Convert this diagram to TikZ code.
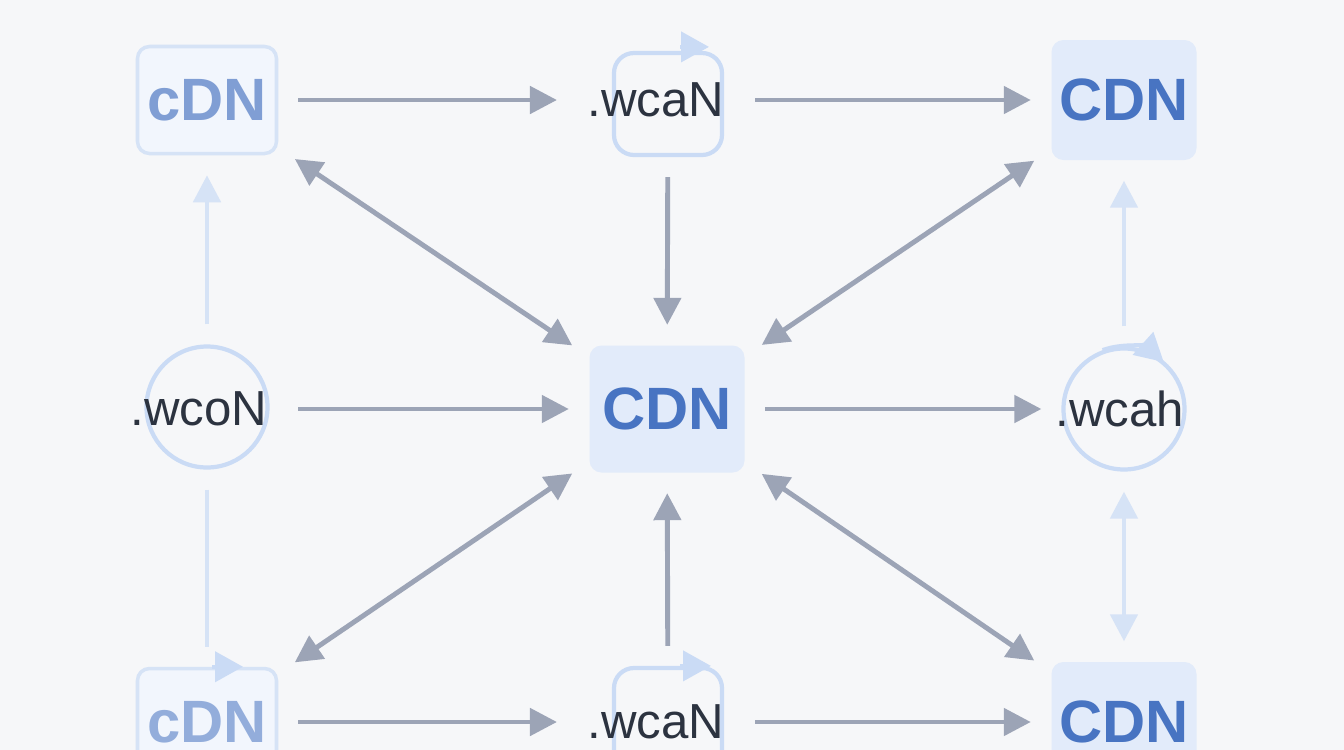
\documentclass[tikz,border=0pt]{standalone}
\usepackage{fontspec}
\setmainfont{Liberation Sans}
\usepackage{tikz}
\usetikzlibrary{arrows.meta,positioning}
\definecolor{bgwhite}{RGB}{246,247,249}
\definecolor{arrgray}{RGB}{156,164,182}
\definecolor{paleblue}{RGB}{214,227,246}
\definecolor{iconblue}{RGB}{202,219,245}
\definecolor{cdnfill}{RGB}{226,235,250}
\definecolor{cdnblue}{RGB}{72,116,194}
\definecolor{cdnlight}{RGB}{128,158,212}
\definecolor{inkdark}{RGB}{44,51,64}

\begin{document}
\begin{tikzpicture}[>={Triangle[length=0.27cm,width=0.27cm]}, big/.style={font=\fontsize{17}{20}\selectfont\bfseries, inner sep=0pt}, word/.style={font=\fontsize{14}{16}\selectfont, text=inkdark, inner sep=0.1cm}, cdnbox/.style={big, text=cdnblue, fill=cdnfill, rounded corners=0.12cm, minimum width=1.45cm, minimum height=1.2cm}, palebox/.style={big, text=cdnlight, draw=paleblue, line width=1pt, fill=cdnfill!45, rounded corners=0.12cm, minimum width=1.39cm, minimum height=1.07cm}, loopsq/.style={draw=iconblue, line width=1.2pt, rounded corners=0.2cm, minimum width=1.08cm, minimum height=1.02cm}, loopc/.style={circle, draw=iconblue, line width=1.2pt, minimum size=1.21cm}, arr/.style={->, line width=1.4pt, draw=arrgray, shorten <=0.2cm, shorten >=0.2cm}, darr/.style={arr, <->}, parr/.style={arr, draw=paleblue}, pdarr/.style={darr, draw=paleblue}, pline/.style={arr, -, draw=paleblue}, iconarr/.style={draw=iconblue, line width=1.2pt, -{Triangle[length=0.28cm,width=0.3cm]}}]
\useasboundingbox (0,0) rectangle (13.44,-7.5);
\fill[bgwhite] (0,0) rectangle (13.44,-7.5);
\node[palebox] (tl) at (2.07,-1.0) {cDN};
\node[loopsq] (tmq) at (6.68,-1.04) {};
\node[word] (tm) at (6.56,-1.0) {.wcaN};
\node[cdnbox] (tr) at (11.24,-1.0) {CDN};
\node[loopc] (mlc) at (2.07,-4.07) {};
\node[word] (ml) at (1.99,-4.09) {.wcoN};
\node[cdnbox, minimum width=1.55cm, minimum height=1.27cm] (c) at (6.67,-4.09) {CDN};
\node[loopc] (mrc) at (11.24,-4.09) {};
\node[word] (mr) at (11.20,-4.09) {.wcah};
\node[palebox, text=cdnlight!85] (bl) at (2.07,-7.22) {cDN};
\node[loopsq] (bmq) at (6.68,-7.19) {};
\node[word] (bm) at (6.56,-7.22) {.wcaN};
\node[cdnbox] (br) at (11.24,-7.22) {CDN};
\draw[iconarr] ([xshift=0.12cm, yshift=0.04cm]tmq.north) -- ([xshift=0.41cm, yshift=0.04cm]tmq.north);
\draw[iconarr] (mrc.110) arc[start angle=110, end angle=48, radius=0.605cm];
\draw[iconarr] ([xshift=0.05cm]bl.north) -- ([xshift=0.36cm]bl.north);
\draw[iconarr] ([xshift=0.12cm]bmq.north) -- ([xshift=0.43cm]bmq.north);
\draw[arr] (tl) -- (tm);
\draw[arr] (tm) -- (tr);
\draw[arr] (tmq) -- (c);
\draw[darr] (tl) -- (c);
\draw[darr] (tr) -- (c);
\draw[arr] (ml) -- (c);
\draw[arr] (c) -- (mrc);
\draw[darr] (c) -- (bl);
\draw[arr] (bmq) -- (c);
\draw[darr] (c) -- (br);
\draw[arr] (bl) -- (bm);
\draw[arr] (bm) -- (br);
\draw[parr] (mlc) -- (tl);
\draw[pline] (mlc) -- (bl);
\draw[parr] (mrc) -- (tr);
\draw[pdarr] (mrc) -- (br);
\end{tikzpicture}
\end{document}
